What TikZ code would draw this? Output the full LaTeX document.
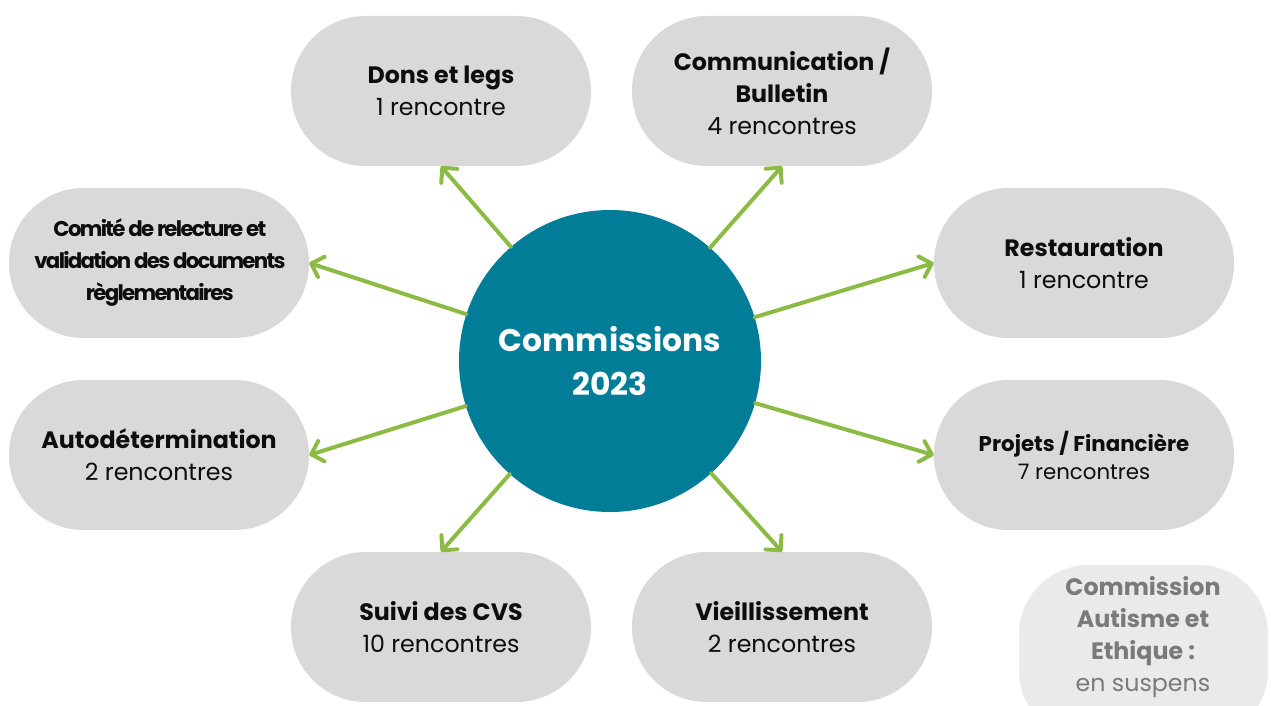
\documentclass[tikz,border=0pt]{standalone}
\usepackage{fontspec}
\setmainfont{Poppins}
\usetikzlibrary{arrows.meta}
\definecolor{cteal}{HTML}{017D98}
\definecolor{pillgray}{HTML}{D9D9D9}
\definecolor{lightpill}{HTML}{EAEAEA}
\definecolor{cgreen}{HTML}{8CBB45}
\definecolor{ctext}{HTML}{0D0D0D}
\definecolor{graytext}{HTML}{7A7A7A}
\begin{document}
\begin{tikzpicture}[x=0.75pt,y=-0.75pt,
  pill/.style={fill=pillgray, rounded corners=56pt, minimum width=225pt, minimum height=112.5pt,
    align=center, inner sep=0pt, text=ctext, font=\fontsize{17.8}{24}\selectfont},
  arr/.style={draw=cgreen, line width=3pt, line cap=round,
    -{Straight Barb[length=8pt,width=16pt,round]}}]
\useasboundingbox (0,0) rectangle (1271,706);
\begin{scope}
\clip (0,0) rectangle (1271,706);
\fill[lightpill, rounded corners=52pt] (1019,565) rectangle (1268,740);
\end{scope}
\node[align=center, text=graytext, font=\fontsize{17.8}{24}\selectfont] (aut) at (1143,637)
  {\textbf{Commission}\\\textbf{Autisme et}\\\textbf{Ethique :}\\en suspens};

\node[circle, fill=cteal, minimum size=226.5pt, inner sep=0pt, text=white, align=center,
  font=\fontsize{23.5}{33}\selectfont\bfseries] (c) at (610,361) {Commissions\\2023};

\node[pill] (dons) at (441,91) {\textbf{Dons et legs}\\1 rencontre};
\node[pill] (comm) at (782,91) {\textbf{Communication /}\\\textbf{Bulletin}\\4 rencontres};
\node[pill] (rest) at (1084,263) {\textbf{Restauration}\\1 rencontre};
\node[pill, font=\fontsize{16}{21}\selectfont] (proj) at (1084,455) {\textbf{Projets / Financière}\\7 rencontres};
\node[pill, font=\fontsize{16}{24}\selectfont\addfontfeatures{LetterSpace=-8}] (comite) at (159,263)
  {\textbf{Comité de relecture et}\\\textbf{validation des documents}\\\textbf{règlementaires}};
\node[pill] (auto) at (159,455) {\textbf{Autodétermination}\\2 rencontres};
\node[pill] (suivi) at (441,627) {\textbf{Suivi des CVS}\\10 rencontres};
\node[pill] (vieil) at (782,627) {\textbf{Vieillissement}\\2 rencontres};

\draw[arr] (c) -- (dons.south);
\draw[arr] (c) -- (comm.south);
\draw[arr] (c) -- (rest.west);
\draw[arr] (c) -- (proj.west);
\draw[arr] (c) -- (comite.east);
\draw[arr] (c) -- (auto.east);
\draw[arr] (c) -- (suivi.north);
\draw[arr] (c) -- (vieil.north);
\end{tikzpicture}
\end{document}
